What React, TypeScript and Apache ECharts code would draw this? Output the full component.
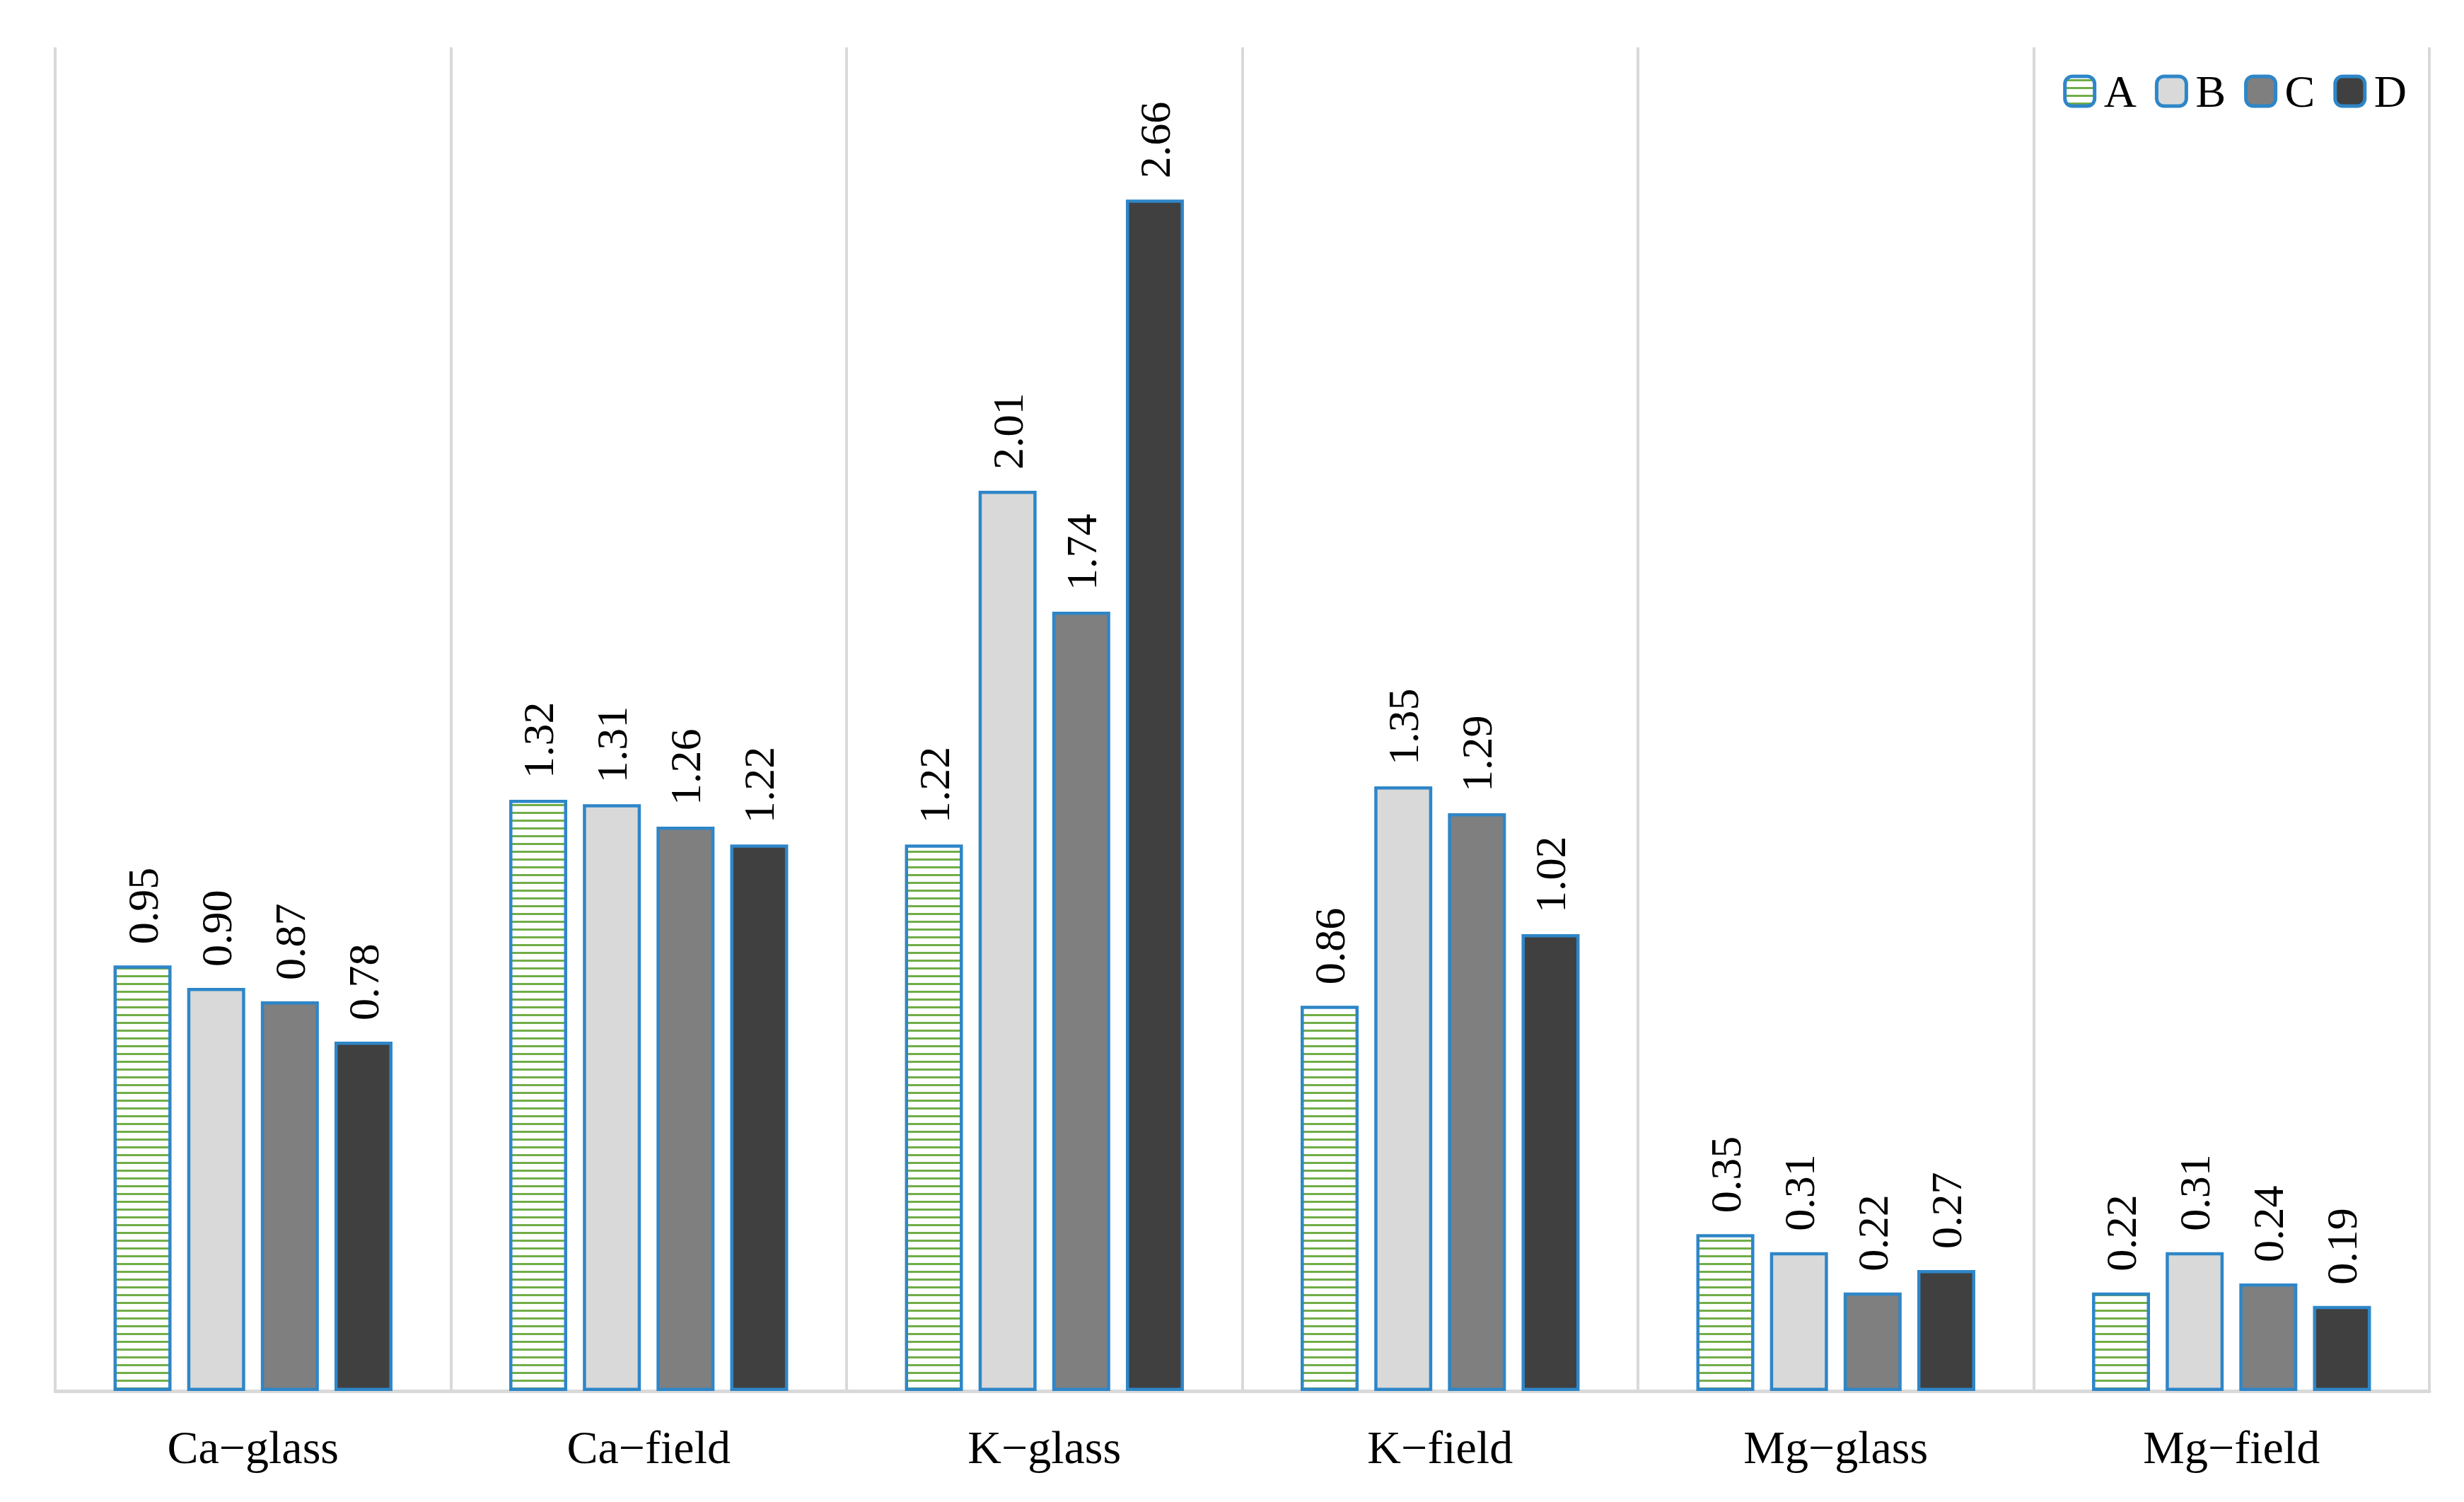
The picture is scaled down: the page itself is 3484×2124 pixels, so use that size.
import React, { useEffect, useRef } from "react";
import * as echarts from "echarts";

const categories = ["Ca−glass", "Ca−field", "K−glass", "K−field", "Mg−glass", "Mg−field"];
const seriesNames = ["A", "B", "C", "D"];
const valuesA = [0.95, 1.32, 1.22, 0.86, 0.35, 0.22];
const valuesB = [0.9, 1.31, 2.01, 1.35, 0.31, 0.31];
const valuesC = [0.87, 1.26, 1.74, 1.29, 0.22, 0.24];
const valuesD = [0.78, 1.22, 2.66, 1.02, 0.27, 0.19];

const BORDER = "#2E86C8";
const FONT = "Liberation Serif";

function makeStripe() {
  const c = document.createElement("canvas");
  c.width = 4;
  c.height = 11;
  const ctx = c.getContext("2d")!;
  ctx.fillStyle = "#ffffff";
  ctx.fillRect(0, 0, 4, 11);
  ctx.fillStyle = "#70AD47";
  ctx.fillRect(0, 4, 4, 3);
  return c;
}

export default function App() {
  const ref = useRef<HTMLDivElement>(null);
  useEffect(() => {
    if (!ref.current) return;
    const chart = echarts.init(ref.current, null, { renderer: "svg" });
    const stripe = makeStripe();
    const fills: any[] = [
      { image: stripe, repeat: "repeat", imageWidth: 4, imageHeight: 11 },
      "#D9D9D9",
      "#7F7F7F",
      "#404040",
    ];
    const data = [valuesA, valuesB, valuesC, valuesD];
    chart.setOption({
      animation: false,
      backgroundColor: "#ffffff",
      grid: { left: 78, right: 49, top: 67, bottom: 157, containLabel: false },
      legend: {
        show: true,
        right: 76,
        top: 92,
        itemWidth: 42,
        itemHeight: 42,
        itemGap: 26,
        icon: "roundRect",
        itemStyle: { borderWidth: 5, borderColor: BORDER },
        textStyle: { fontFamily: FONT, fontSize: 64, color: "#000", padding: [0, 0, 0, 8] },
        data: seriesNames,
      },
      xAxis: {
        type: "category",
        data: categories,
        boundaryGap: true,
        axisLine: { show: true, lineStyle: { color: "#D9D9D9", width: 5 } },
        axisTick: { show: false },
        splitLine: { show: true, lineStyle: { color: "#D9D9D9", width: 4 } },
        axisLabel: {
          fontFamily: FONT,
          fontSize: 66,
          color: "#000",
          margin: 46,
        },
      },
      yAxis: {
        type: "value",
        min: 0,
        max: 3,
        show: false,
        splitLine: { show: false },
      },
      series: seriesNames.map((name, i) => ({
        name,
        type: "bar",
        data: data[i],
        barWidth: 82,
        barGap: "27%",
        itemStyle: {
          color: fills[i],
          borderColor: BORDER,
          borderWidth: 4.5,
        },
        label: {
          show: true,
          position: "top",
          rotate: 90,
          align: "left",
          verticalAlign: "middle",
          distance: 30,
          fontFamily: FONT,
          fontSize: 62,
          color: "#000",
          formatter: (p: any) => Number(p.value).toFixed(2),
        },
      })),
    });
    return () => chart.dispose();
  }, []);
  return (
    <div
      ref={ref}
      style={{ position: "fixed", left: 0, top: 0, width: 3484, height: 2124, background: "#fff" }}
    />
  );
}
